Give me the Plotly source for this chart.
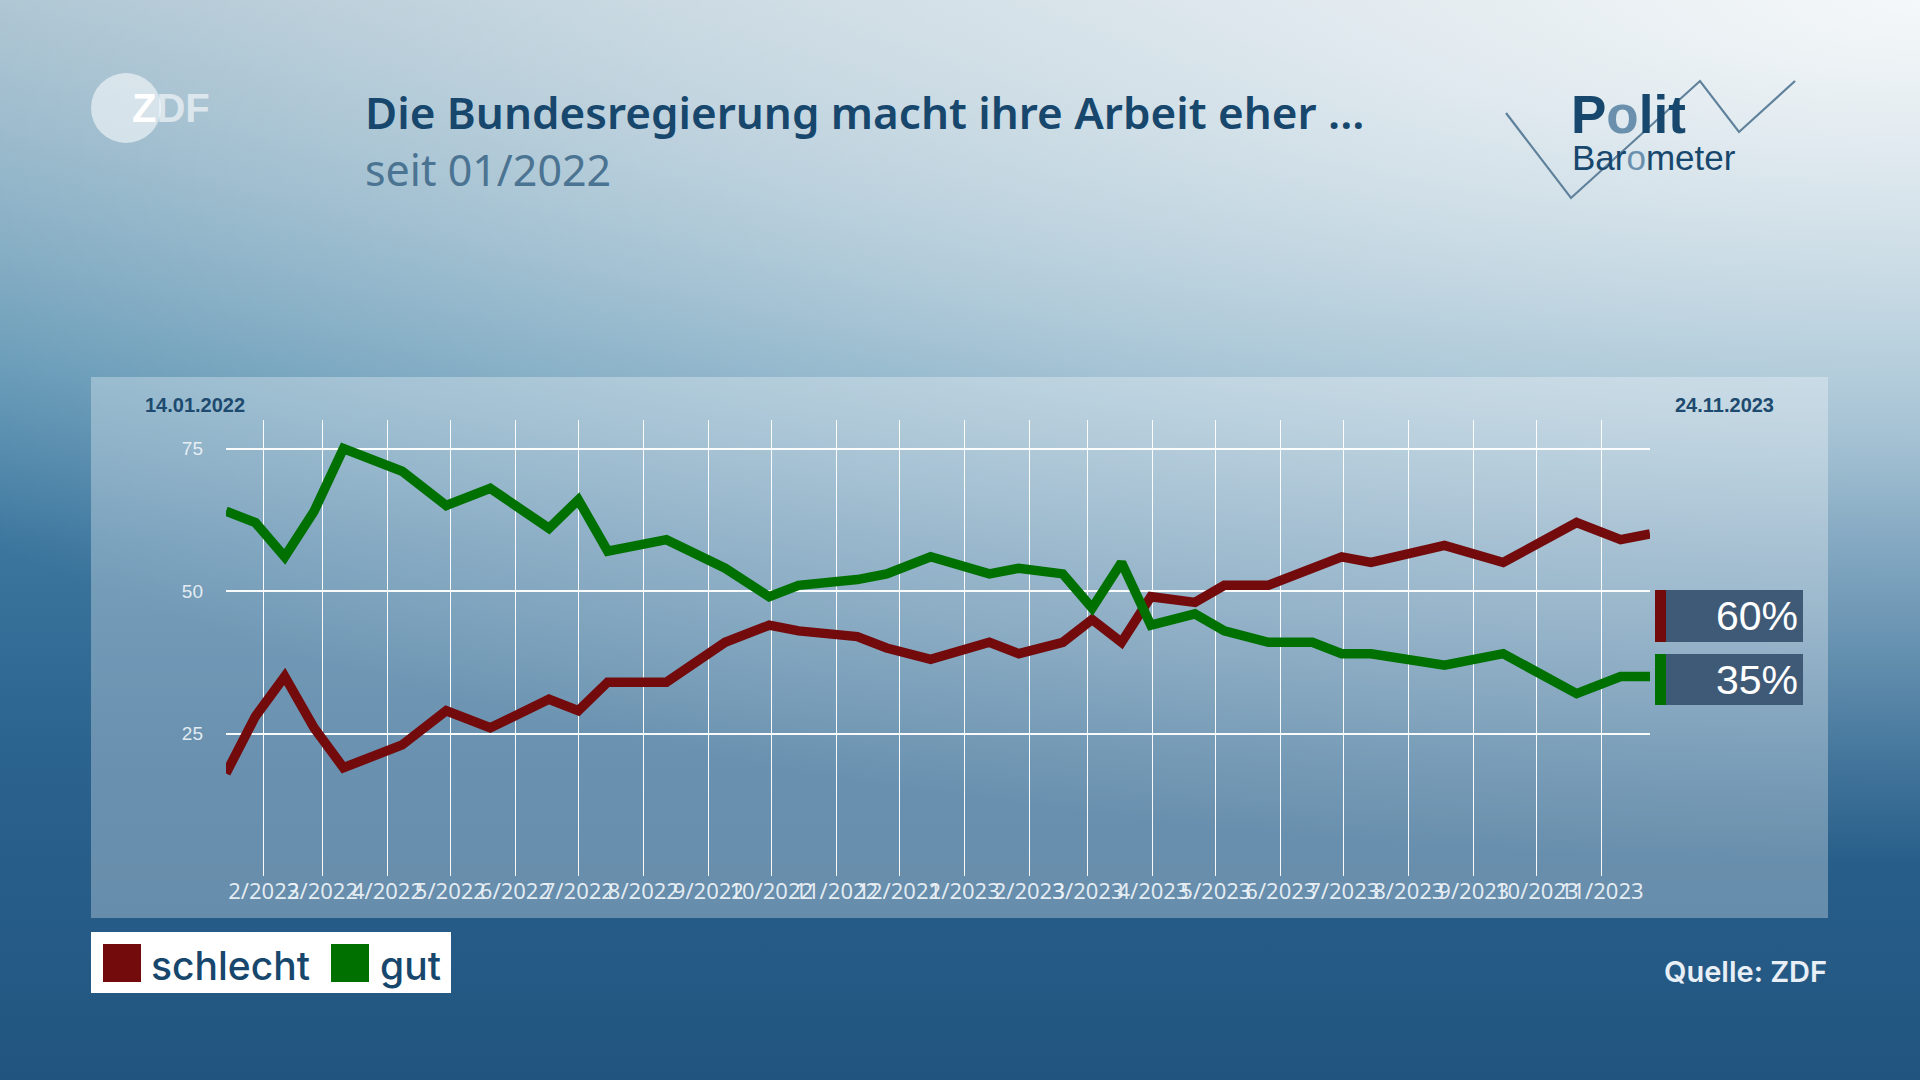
import base64
import plotly.graph_objects as go

# ---------------- data ----------------
survey_dates = [
    "2022-01-14", "2022-01-28", "2022-02-11", "2022-02-25", "2022-03-11", "2022-04-08",
    "2022-04-29", "2022-05-20", "2022-06-17", "2022-07-01", "2022-07-15", "2022-08-12",
    "2022-09-09", "2022-09-30", "2022-10-14", "2022-11-11", "2022-11-25", "2022-12-16",
    "2023-01-13", "2023-01-27", "2023-02-17", "2023-03-03", "2023-03-17", "2023-03-31",
    "2023-04-21", "2023-05-05", "2023-05-26", "2023-06-16", "2023-06-30", "2023-07-14",
    "2023-08-18", "2023-09-15", "2023-10-20", "2023-11-10", "2023-11-24",
]
schlecht = [18, 28, 35, 26, 19, 23, 29, 26, 31, 29, 34, 34, 41, 44, 43, 42, 40, 38,
            41, 39, 41, 45, 41, 49, 48, 51, 51, 54, 56, 55, 58, 55, 62, 59, 60]
gut = [64, 62, 56, 64, 75, 71, 65, 68, 61, 66, 57, 59, 54, 49, 51, 52, 53, 56,
       53, 54, 53, 47, 55, 44, 46, 43, 41, 41, 39, 39, 37, 39, 32, 35, 35]

tick_dates = [
    "2022-02-01", "2022-03-01", "2022-04-01", "2022-05-01", "2022-06-01", "2022-07-01",
    "2022-08-01", "2022-09-01", "2022-10-01", "2022-11-01", "2022-12-01", "2023-01-01",
    "2023-02-01", "2023-03-01", "2023-04-01", "2023-05-01", "2023-06-01", "2023-07-01",
    "2023-08-01", "2023-09-01", "2023-10-01", "2023-11-01",
]
tick_labels = [
    "2/2022", "3/2022", "4/2022", "5/2022", "6/2022", "7/2022", "8/2022", "9/2022",
    "10/2022", "11/2022", "12/2022", "1/2023", "2/2023", "3/2023", "4/2023", "5/2023",
    "6/2023", "7/2023", "8/2023", "9/2023", "10/2023", "11/2023",
]
y_ticks = [25, 50, 75]

title_text = "Die Bundesregierung macht ihre Arbeit eher ..."
subtitle_text = "seit 01/2022"
start_label = "14.01.2022"
end_label = "24.11.2023"
source_text = "Quelle: ZDF"

RED = "#730b0d"
GREEN = "#007000"
DARK = "#17476c"

# ---------------- geometry helpers ----------------
W, H = 1920, 1080
L, R, T, B = 226, 1650, 420, 876


def px(x):
    return (x - L) / (R - L)


def py(y):
    return (B - y) / (B - T)


# ---------------- background gradient (svg image) ----------------
svg = (
    "<svg xmlns='http://www.w3.org/2000/svg' width='1920' height='1080' "
    "viewBox='0 0 1920 1080' preserveAspectRatio='none'>"
    "<defs>"
    "<linearGradient id='g' x1='0' y1='0' x2='0' y2='1'>"
    "<stop offset='0' stop-color='#98b6c7'/>"
    "<stop offset='0.34' stop-color='#5790b0'/>"
    "<stop offset='0.5' stop-color='#3c769e'/>"
    "<stop offset='0.7' stop-color='#2a638e'/>"
    "<stop offset='1' stop-color='#215580'/>"
    "</linearGradient>"
    "<radialGradient id='r' cx='1' cy='0' r='1' "
    "gradientTransform='translate(1,0) scale(1.3,0.8) translate(-1,0)'>"
    "<stop offset='0' stop-color='#ffffff' stop-opacity='0.9'/>"
    "<stop offset='0.5' stop-color='#ffffff' stop-opacity='0.5'/>"
    "<stop offset='1' stop-color='#ffffff' stop-opacity='0'/>"
    "</radialGradient>"
    "</defs>"
    "<rect width='1920' height='1080' fill='url(#g)'/>"
    "<rect width='1920' height='1080' fill='url(#r)'/>"
    "</svg>"
)
bg_uri = "data:image/svg+xml;base64," + base64.b64encode(svg.encode()).decode()

fig = go.Figure()

fig.add_trace(go.Scatter(
    x=survey_dates, y=schlecht, mode="lines", name="schlecht",
    line=dict(color=RED, width=9.5), hoverinfo="x+y",
))
fig.add_trace(go.Scatter(
    x=survey_dates, y=gut, mode="lines", name="gut",
    line=dict(color=GREEN, width=9.5), hoverinfo="x+y",
))

shapes = []
# chart panel
shapes.append(dict(type="rect", xref="paper", yref="paper",
                   x0=px(91), x1=px(1828), y0=py(918), y1=py(377),
                   fillcolor="rgba(255,255,255,0.3)", line=dict(width=0), layer="below"))
# ZDF circle
shapes.append(dict(type="circle", xref="paper", yref="paper",
                   x0=px(91), x1=px(161), y0=py(143), y1=py(73),
                   fillcolor="rgba(255,255,255,0.55)", line=dict(width=0), layer="above"))
# Politbarometer zigzag
zig = [(1506, 113), (1571, 198), (1700, 81), (1739, 132), (1795, 81)]
path = "M " + " L ".join(f"{px(a):.5f},{py(b):.5f}" for a, b in zig)
shapes.append(dict(type="path", xref="paper", yref="paper", path=path,
                   line=dict(color="#5f819b", width=2.2), layer="above"))

# value boxes at right end
last_vals = [(schlecht[-1], RED, 590, 642), (gut[-1], GREEN, 654, 705)]
annotations = []
for val, col, y0, y1 in last_vals:
    shapes.append(dict(type="rect", xref="paper", yref="paper",
                       x0=px(1655), x1=px(1803), y0=py(y1), y1=py(y0),
                       fillcolor="#3f5a77", line=dict(width=0), layer="above"))
    shapes.append(dict(type="rect", xref="paper", yref="paper",
                       x0=px(1655), x1=px(1666), y0=py(y1), y1=py(y0),
                       fillcolor=col, line=dict(width=0), layer="above"))
    annotations.append(dict(xref="paper", yref="paper", x=px(1800), y=py((y0 + y1) / 2),
                            text=f"{val}%", showarrow=False, xanchor="right", yanchor="middle",
                            font=dict(family="Liberation Sans, Arial", size=41, color="white")))

# legend box
shapes.append(dict(type="rect", xref="paper", yref="paper",
                   x0=px(91), x1=px(451), y0=py(993), y1=py(932),
                   fillcolor="white", line=dict(width=0), layer="above"))
shapes.append(dict(type="rect", xref="paper", yref="paper",
                   x0=px(103), x1=px(141), y0=py(982), y1=py(944),
                   fillcolor=RED, line=dict(width=0), layer="above"))
shapes.append(dict(type="rect", xref="paper", yref="paper",
                   x0=px(331), x1=px(369), y0=py(982), y1=py(944),
                   fillcolor=GREEN, line=dict(width=0), layer="above"))
annotations.append(dict(xref="paper", yref="paper", x=px(149), y=py(965),
                        text="schlecht", showarrow=False, xanchor="left", yanchor="middle",
                        font=dict(family="Inter, Noto Sans", size=39, color=DARK, weight=500)))
annotations.append(dict(xref="paper", yref="paper", x=px(378), y=py(965),
                        text="gut", showarrow=False, xanchor="left", yanchor="middle",
                        font=dict(family="Inter, Noto Sans", size=39, color=DARK, weight=500)))

# titles
annotations.append(dict(xref="paper", yref="paper", x=px(363), y=py(112),
                        text=title_text, showarrow=False, xanchor="left", yanchor="middle",
                        font=dict(family="Noto Sans", size=44, color=DARK, weight=600)))
annotations.append(dict(xref="paper", yref="paper", x=px(363), y=py(170),
                        text=subtitle_text, showarrow=False, xanchor="left", yanchor="middle",
                        font=dict(family="Noto Sans", size=43, color="#4b7392")))

# ZDF logo text
annotations.append(dict(xref="paper", yref="paper", x=px(130), y=py(108),
                        text="Z<span style='color:rgba(255,255,255,0.6)'>DF</span>",
                        showarrow=False, xanchor="left", yanchor="middle",
                        font=dict(family="Liberation Sans, Arial", size=40, color="white",
                                  weight=700)))

# Politbarometer text
annotations.append(dict(xref="paper", yref="paper", x=px(1569), y=py(114),
                        text="P<span style='color:#6a90ad'>o</span>lit",
                        showarrow=False, xanchor="left", yanchor="middle",
                        font=dict(family="Liberation Sans, Arial", size=53, color="#17476c",
                                  weight=700)))
annotations.append(dict(xref="paper", yref="paper", x=px(1570), y=py(157),
                        text="Bar<span style='color:#6a90ad'>o</span>meter",
                        showarrow=False, xanchor="left", yanchor="middle",
                        font=dict(family="Liberation Sans, Arial", size=35, color="#17476c")))

# date labels
annotations.append(dict(xref="paper", yref="paper", x=px(195), y=py(405),
                        text=start_label, showarrow=False, xanchor="center", yanchor="middle",
                        font=dict(family="Liberation Sans", size=20,
                                  color="#1d4a6e", weight=700)))
annotations.append(dict(xref="paper", yref="paper", x=px(1724), y=py(405),
                        text=end_label, showarrow=False, xanchor="center", yanchor="middle",
                        font=dict(family="Liberation Sans", size=20,
                                  color="#1d4a6e", weight=700)))

# source
annotations.append(dict(xref="paper", yref="paper", x=px(1829), y=py(971),
                        text=source_text, showarrow=False, xanchor="right", yanchor="middle",
                        font=dict(family="Inter, Noto Sans", size=29, color="#e9eff6",
                                  weight=600)))

fig.update_layout(
    width=W, height=H, autosize=False,
    margin=dict(l=L, r=W - R, t=T, b=H - B, pad=0),
    paper_bgcolor="#3f789f",
    plot_bgcolor="rgba(0,0,0,0)",
    showlegend=False,
    shapes=shapes,
    annotations=annotations,
    images=[dict(source=bg_uri, xref="paper", yref="paper",
                 x=px(0), y=py(0), sizex=W / (R - L), sizey=H / (B - T),
                 xanchor="left", yanchor="top", sizing="stretch", layer="below")],
    xaxis=dict(
        type="date", range=[survey_dates[0], survey_dates[-1]],
        tickmode="array", tickvals=tick_dates, ticktext=tick_labels, tickangle=0,
        showgrid=True, gridcolor="rgba(255,255,255,0.95)", gridwidth=1.3,
        zeroline=False, showline=False, ticks="",
        tickfont=dict(family="Noto Sans", size=22, color="rgba(236,242,247,0.95)"),
    ),
    yaxis=dict(
        range=[0, 80], tickmode="array", tickvals=y_ticks,
        showgrid=True, gridcolor="rgba(255,255,255,0.95)", gridwidth=1.5,
        zeroline=False, showline=False, ticks="", ticklabelstandoff=22,
        tickfont=dict(family="Liberation Sans", size=19,
                      color="rgba(236,242,247,0.95)"),
    ),
)

fig.write_html(
    "out.html",
    config={"displayModeBar": False},
    post_script="document.body.style.margin='0';document.body.style.padding='0';"
                "document.body.style.overflow='hidden';",
)
